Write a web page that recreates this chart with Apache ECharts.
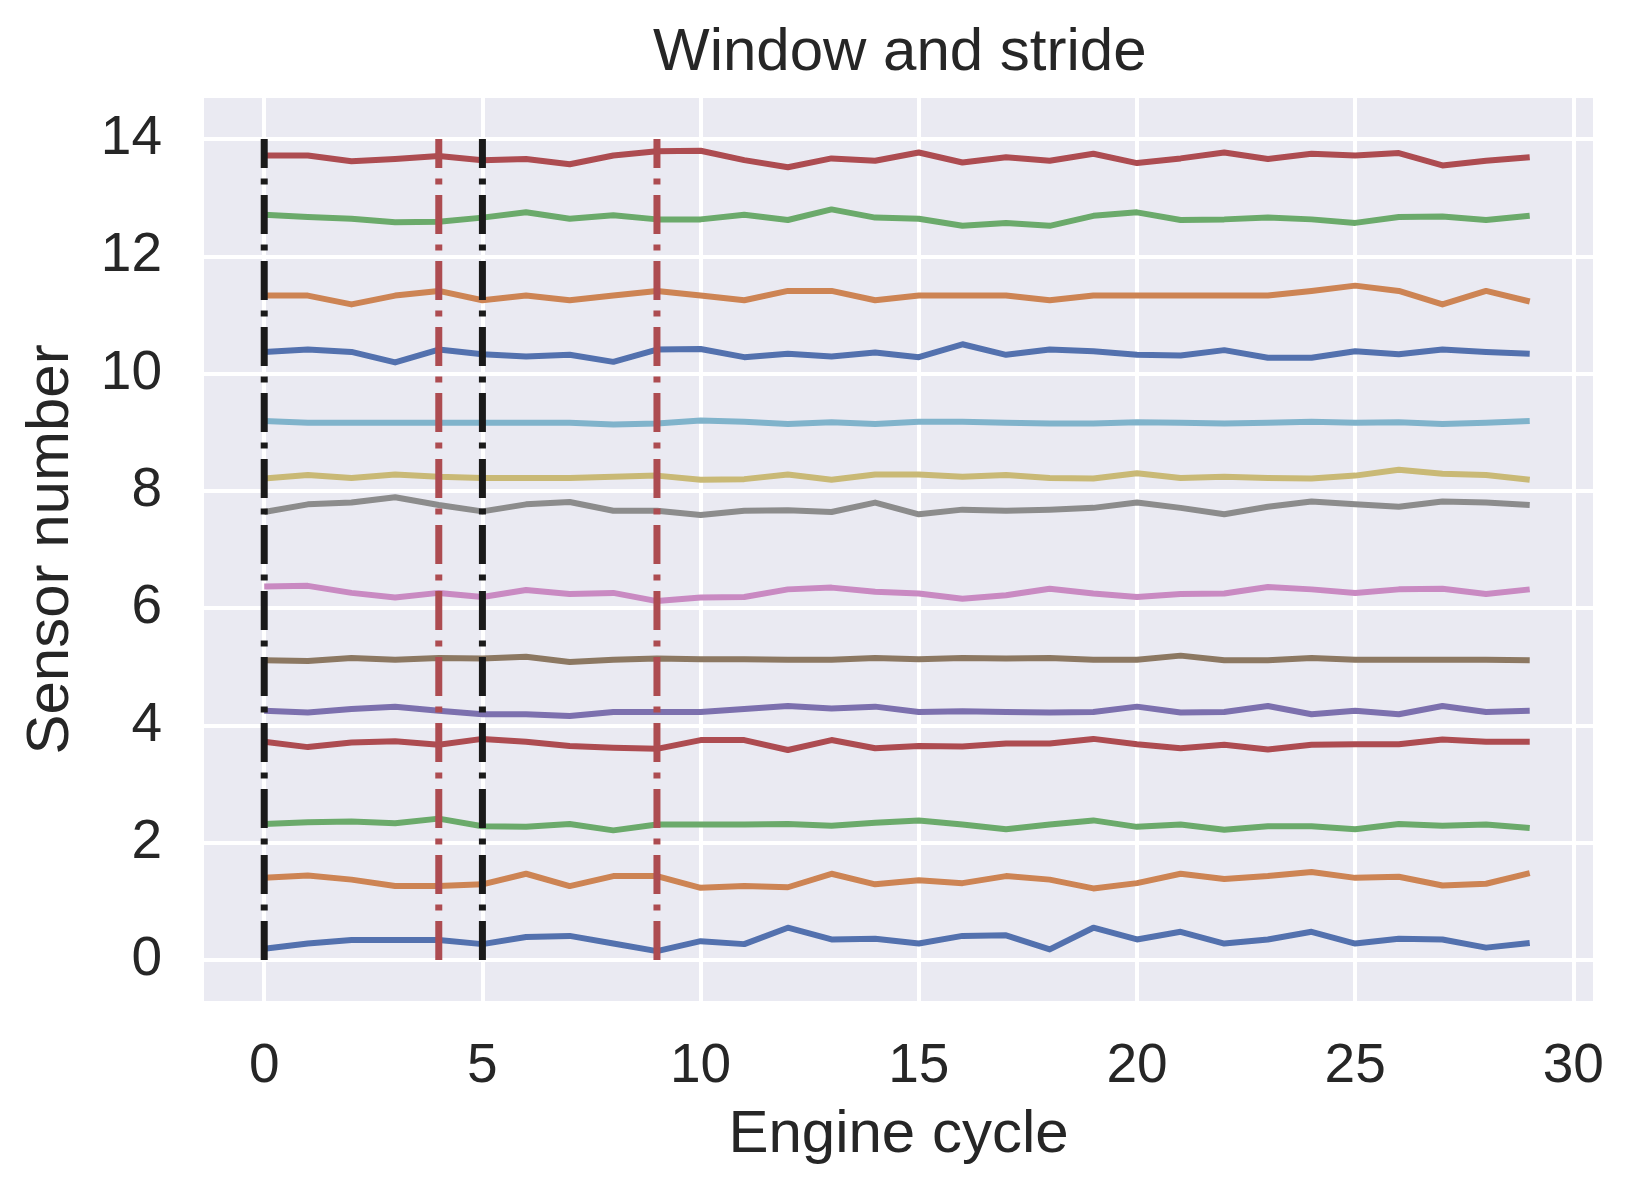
<!DOCTYPE html>
<html>
<head>
<meta charset="utf-8">
<script src="https://cdn.jsdelivr.net/npm/echarts@6/dist/echarts.min.js"></script>
<style>
html,body{margin:0;padding:0;background:#fff;}
#chart{width:1651px;height:1192px;}
</style>
</head>
<body>
<div id="chart"></div>
<script>
// Engine cycles (x)
const cycles = Array.from({length: 30}, (_, i) => i);

// Sensor traces (sensor index + normalized reading)
const sensor0  = [0.19,0.28,0.34,0.34,0.34,0.27,0.39,0.41,0.28,0.15,0.32,0.27,0.55,0.35,0.36,0.28,0.41,0.42,0.18,0.55,0.35,0.48,0.28,0.35,0.48,0.28,0.36,0.35,0.21,0.29];
const sensor1  = [1.40,1.44,1.37,1.26,1.26,1.29,1.47,1.26,1.43,1.43,1.23,1.26,1.24,1.47,1.29,1.36,1.31,1.43,1.37,1.22,1.31,1.47,1.38,1.43,1.50,1.40,1.42,1.27,1.30,1.48];
const sensor2  = [2.32,2.35,2.36,2.33,2.41,2.28,2.27,2.32,2.21,2.31,2.31,2.31,2.32,2.29,2.34,2.38,2.31,2.23,2.31,2.38,2.27,2.31,2.22,2.28,2.28,2.23,2.32,2.29,2.31,2.25];
const sensor3  = [3.72,3.63,3.71,3.73,3.67,3.77,3.72,3.65,3.62,3.60,3.75,3.75,3.58,3.75,3.61,3.65,3.64,3.69,3.69,3.77,3.68,3.61,3.67,3.59,3.67,3.68,3.68,3.76,3.72,3.72];
const sensor4  = [4.25,4.22,4.28,4.32,4.25,4.19,4.19,4.16,4.23,4.23,4.23,4.28,4.33,4.29,4.32,4.23,4.24,4.23,4.22,4.23,4.32,4.22,4.23,4.33,4.19,4.25,4.19,4.33,4.23,4.25];
const sensor5  = [5.11,5.10,5.15,5.12,5.15,5.14,5.17,5.08,5.12,5.14,5.13,5.13,5.12,5.12,5.15,5.13,5.15,5.14,5.15,5.12,5.12,5.19,5.11,5.11,5.15,5.12,5.12,5.12,5.12,5.11];
const sensor6  = [6.37,6.38,6.26,6.18,6.26,6.19,6.31,6.24,6.26,6.12,6.18,6.19,6.32,6.35,6.28,6.25,6.16,6.22,6.33,6.25,6.19,6.24,6.25,6.36,6.32,6.26,6.32,6.33,6.24,6.32];
const sensor7  = [7.64,7.77,7.80,7.89,7.76,7.65,7.77,7.81,7.66,7.66,7.59,7.66,7.67,7.64,7.80,7.60,7.68,7.66,7.68,7.71,7.80,7.71,7.60,7.73,7.82,7.77,7.73,7.82,7.80,7.76];
const sensor8  = [8.21,8.27,8.22,8.28,8.24,8.22,8.22,8.22,8.24,8.26,8.19,8.20,8.28,8.19,8.28,8.28,8.24,8.27,8.22,8.21,8.30,8.22,8.24,8.22,8.21,8.26,8.36,8.29,8.27,8.19];
const sensor9  = [9.19,9.16,9.16,9.16,9.16,9.16,9.16,9.16,9.13,9.15,9.20,9.18,9.14,9.17,9.14,9.18,9.18,9.16,9.15,9.15,9.17,9.16,9.15,9.16,9.18,9.16,9.17,9.14,9.16,9.19];
const sensor10 = [10.37,10.41,10.37,10.19,10.41,10.33,10.29,10.32,10.20,10.41,10.42,10.28,10.34,10.29,10.36,10.28,10.50,10.32,10.41,10.38,10.32,10.31,10.40,10.27,10.27,10.38,10.33,10.41,10.37,10.34];
const sensor11 = [11.33,11.33,11.18,11.33,11.41,11.25,11.33,11.25,11.33,11.41,11.33,11.25,11.41,11.41,11.25,11.33,11.33,11.33,11.25,11.33,11.33,11.33,11.33,11.33,11.41,11.50,11.41,11.18,11.41,11.23];
const sensor12 = [12.71,12.67,12.64,12.58,12.59,12.66,12.75,12.64,12.70,12.63,12.63,12.71,12.62,12.80,12.66,12.64,12.52,12.57,12.52,12.69,12.75,12.62,12.63,12.66,12.63,12.57,12.67,12.68,12.62,12.69];
const sensor13 = [13.72,13.72,13.62,13.66,13.71,13.64,13.66,13.57,13.72,13.79,13.80,13.64,13.52,13.67,13.63,13.77,13.60,13.69,13.63,13.75,13.59,13.67,13.77,13.66,13.75,13.72,13.76,13.55,13.63,13.69];

const sensors = [sensor0,sensor1,sensor2,sensor3,sensor4,sensor5,sensor6,sensor7,sensor8,sensor9,sensor10,sensor11,sensor12,sensor13];

// Window markers
const windowStarts = [0, 5];   // black dash-dot
const windowEnds = [4, 9];     // red dash-dot
const markerSpan = [0, 14];    // vertical extent of the markers

const palette = ['#5371AE','#CD8454','#6BAA6B','#AD4C51','#7C70AE','#8C7862','#C98AC2','#8C8C8C','#C9B976','#80B3CB'];
const FONT = '"Liberation Sans", Arial, Helvetica, sans-serif';
const TXT = '#262626';

const series = [];
sensors.forEach((vals, k) => {
  series.push({
    type: 'line',
    name: 'sensor' + k,
    data: cycles.map((c, i) => [c, vals[i]]),
    showSymbol: false,
    symbol: 'none',
    lineStyle: {color: palette[k % palette.length], width: 6, cap: 'butt', join: 'round'},
    z: 2,
    silent: true
  });
});
const dashDot = [39, 10.5, 6, 10.5];
windowStarts.forEach(x => series.push({
  type: 'line', data: [[x, markerSpan[0]], [x, markerSpan[1]]],
  showSymbol: false, symbol: 'none', silent: true, z: 5,
  lineStyle: {color: '#1A1A1A', width: 7, type: dashDot, cap: 'butt'}
}));
windowEnds.forEach(x => series.push({
  type: 'line', data: [[x, markerSpan[0]], [x, markerSpan[1]]],
  showSymbol: false, symbol: 'none', silent: true, z: 5,
  lineStyle: {color: '#AD4C51', width: 7, type: dashDot, cap: 'butt'}
}));

const chart = echarts.init(document.getElementById('chart'), null, {renderer: 'canvas'});
chart.setOption({
  animation: false,
  backgroundColor: '#ffffff',
  title: {
    text: 'Window and stride', left: 648, top: 18,
    textStyle: {fontFamily: FONT, fontSize: 60, fontWeight: 'normal', color: TXT}
  },
  grid: {left: 204, right: 58, top: 98, bottom: 191, show: true, backgroundColor: '#EAEAF2', borderWidth: 0, containLabel: false},
  xAxis: {
    type: 'value', min: -1.38, max: 30.45, minInterval: 5, maxInterval: 5,
    name: 'Engine cycle', nameLocation: 'middle', nameGap: 104,
    nameTextStyle: {fontFamily: FONT, fontSize: 60, color: TXT},
    axisLine: {show: false}, axisTick: {show: false},
    axisLabel: {fontFamily: FONT, fontSize: 55, color: TXT, margin: 38, showMinLabel: false, showMaxLabel: false},
    splitLine: {show: true, showMinLine: false, showMaxLine: false, lineStyle: {color: '#ffffff', width: 4}}
  },
  yAxis: {
    type: 'value', min: -0.7, max: 14.7, minInterval: 2, maxInterval: 2,
    name: 'Sensor number', nameLocation: 'middle', nameGap: 123,
    nameTextStyle: {fontFamily: FONT, fontSize: 60, color: TXT},
    axisLine: {show: false}, axisTick: {show: false},
    axisLabel: {fontFamily: FONT, fontSize: 55, color: TXT, margin: 42, showMinLabel: false, showMaxLabel: false},
    splitLine: {show: true, showMinLine: false, showMaxLine: false, lineStyle: {color: '#ffffff', width: 4}}
  },
  series: series
});
</script>
</body>
</html>
